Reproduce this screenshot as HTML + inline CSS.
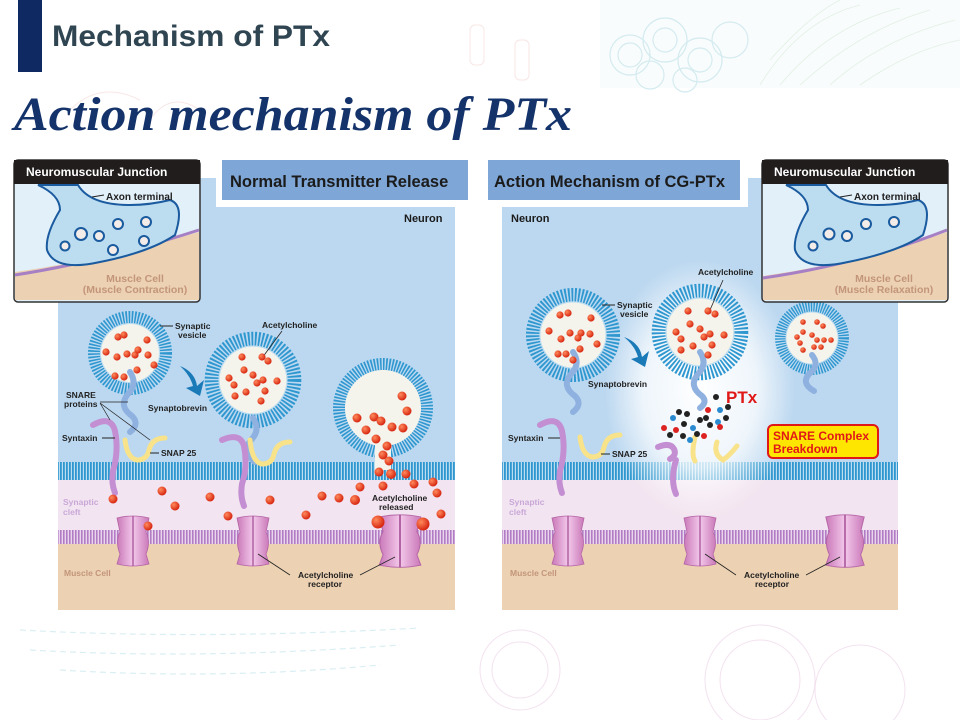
<!DOCTYPE html>
<html><head><meta charset="utf-8"><style>
html,body{margin:0;padding:0;background:#fff;}
svg{display:block;font-family:"Liberation Sans",sans-serif;}
</style></head><body>
<svg width="960" height="720" viewBox="0 0 960 720" xmlns="http://www.w3.org/2000/svg">
<defs>
<pattern id="mem" width="3" height="20" patternUnits="userSpaceOnUse"><rect width="3" height="20" fill="#bcdcf0"/><rect x="0" width="1.8" height="20" fill="#2e97cf"/></pattern>
<pattern id="mmem" width="3" height="20" patternUnits="userSpaceOnUse"><rect width="3" height="20" fill="#e9d6ee"/><rect x="0" width="1.6" height="20" fill="#b27cc4"/></pattern>
<radialGradient id="glow" cx="0.5" cy="0.5" r="0.5"><stop offset="0" stop-color="#fff" stop-opacity="1"/><stop offset="0.6" stop-color="#fff" stop-opacity="0.75"/><stop offset="1" stop-color="#fff" stop-opacity="0"/></radialGradient>
<radialGradient id="dot" cx="0.35" cy="0.35" r="0.7"><stop offset="0" stop-color="#ff8a5c"/><stop offset="1" stop-color="#d4200c"/></radialGradient>
<linearGradient id="rec" x1="0" x2="1"><stop offset="0" stop-color="#c978b8"/><stop offset="0.5" stop-color="#f3c8ea"/><stop offset="1" stop-color="#c978b8"/></linearGradient>
<g id="ves">
<circle r="36" fill="none" stroke="#2e97cf" stroke-width="12" stroke-dasharray="1.6 1.4"/>
<circle r="30" fill="#bcdcf0"/>
<circle r="29" fill="#f4f4ec"/>
</g>
<g id="recp">
<path d="M-16,-22 Q0,-26 16,-22 L13,-8 Q18,2 13,14 L16,24 Q0,28 -16,24 L-13,14 Q-18,2 -13,-8 Z" fill="url(#rec)" stroke="#b565a6" stroke-width="0.8"/>
<line x1="0" y1="-24" x2="0" y2="26" stroke="#a14a92" stroke-width="1.2"/>
</g>
</defs>

<!-- header decoration -->
<g opacity="0.25" fill="none">
<g stroke="#4bb0c8" stroke-width="1.2">
<circle cx="630" cy="55" r="20"/><circle cx="630" cy="55" r="12"/><circle cx="665" cy="40" r="22"/><circle cx="665" cy="40" r="12"/>
<circle cx="700" cy="60" r="22"/><circle cx="700" cy="60" r="12"/><circle cx="730" cy="40" r="18"/><circle cx="650" cy="75" r="14"/><circle cx="685" cy="80" r="12"/>
</g>
<g stroke="#8cc98c" stroke-width="0.8">
<path d="M760,85 Q800,20 860,5"/><path d="M780,85 Q830,25 900,8"/><path d="M800,85 Q860,30 930,10"/><path d="M830,85 Q880,40 955,20"/><path d="M860,85 Q910,50 960,40"/><path d="M770,60 Q810,15 840,0"/>
</g>
<g stroke="#e6a0a0" stroke-width="1">
<rect x="470" y="25" width="14" height="40" rx="5"/><rect x="515" y="40" width="14" height="40" rx="5"/><path d="M70,110 Q100,80 140,100"/><path d="M150,120 Q170,90 200,110"/>
</g>
</g>
<rect x="600" y="0" width="360" height="88" fill="#dff0f2" opacity="0.2"/>

<rect x="18" y="0" width="24" height="72" fill="#0f2a63"/>
<text x="52" y="46" font-size="30" font-weight="bold" fill="#2f4552" textLength="278" lengthAdjust="spacingAndGlyphs">Mechanism of PTx</text>
<text x="14" y="130" font-family="Liberation Serif,serif" font-weight="bold" font-style="italic" font-size="48" fill="#14336b" textLength="558" lengthAdjust="spacingAndGlyphs">Action mechanism of PTx</text>

<!-- bottom decoration -->
<g opacity="0.25" fill="none" stroke="#6cc0d0" stroke-width="1.2" stroke-dasharray="6 4">
<path d="M20,630 Q200,640 420,628"/><path d="M30,650 Q200,660 400,645"/><path d="M60,670 Q220,680 380,665"/>
</g>
<g opacity="0.25" fill="none" stroke="#d090c0" stroke-width="1">
<circle cx="520" cy="670" r="40"/><circle cx="520" cy="670" r="28"/><circle cx="760" cy="680" r="55"/><circle cx="760" cy="680" r="40"/><circle cx="860" cy="690" r="45"/>
</g>

<!-- ===== LEFT PANEL ===== -->
<g>
<rect x="58" y="178" width="397" height="432" fill="#bcd8f0"/>
<rect x="58" y="472" width="397" height="70" fill="#f2e4f0"/>
<rect x="58" y="538" width="397" height="72" fill="#ecd1b2"/>
<rect x="58" y="462" width="397" height="18" fill="url(#mem)"/>
<rect x="58" y="530" width="397" height="14" fill="url(#mmem)"/>
<rect x="216" y="155" width="258" height="52" fill="#fff"/>
<rect x="222" y="160" width="246" height="40" fill="#7ea6d6"/>
<text x="230" y="187" font-size="16.5" font-weight="bold" fill="#1b1b1b">Normal Transmitter Release</text>
<text x="404" y="222" font-size="11" font-weight="bold" fill="#1b1b1b">Neuron</text>

<use href="#ves" x="130" y="353"/>
<use href="#ves" x="253" y="380" transform="translate(253 380) scale(1.15) translate(-253 -380)"/>
<circle cx="383" cy="408" r="44" fill="none" stroke="#2e97cf" stroke-width="12" stroke-dasharray="1.6 1.4"/>
<circle cx="383" cy="408" r="38" fill="#f4f4ec"/>
<rect x="375" y="440" width="16" height="30" fill="#f4f4ec"/>
<path d="M180,366 Q195,372 197,386 L204,380 L200,396 L186,388 L193,386 Q190,375 180,366Z" fill="#1a7ab8"/>
<path d="M130,372 q8,12 -2,22 q-10,12 4,22 q8,8 -2,16" fill="none" stroke="#8fb1e0" stroke-width="6" stroke-linecap="round"/>
<path d="M93,425 q18,-10 22,6 q4,20 -2,40 q-2,12 2,22" fill="none" stroke="#c38fd2" stroke-width="6" stroke-linecap="round"/>
<path d="M125,440 q2,18 12,20 q10,0 12,-10 q3,-12 16,-12" fill="none" stroke="#f8e28a" stroke-width="5" stroke-linecap="round"/>
<path d="M253,418 q8,12 -2,22 q-10,12 4,22" fill="none" stroke="#8fb1e0" stroke-width="6" stroke-linecap="round"/>
<path d="M222,440 q18,-8 22,6 q4,20 -2,38 q-2,12 2,22" fill="none" stroke="#c38fd2" stroke-width="6" stroke-linecap="round"/>
<path d="M250,440 q2,22 12,24 q10,0 12,-10 q3,-12 16,-12" fill="none" stroke="#f8e28a" stroke-width="5" stroke-linecap="round"/>
<use href="#recp" x="133" y="540"/>
<use href="#recp" x="253" y="540"/>
<use href="#recp" x="400" y="540" transform="translate(400 540) scale(1.3 1.05) translate(-400 -540)"/>
<g font-size="8.5" font-weight="bold" fill="#222">
<text x="175" y="329">Synaptic</text><text x="178" y="338">vesicle</text>
<line x1="160" y1="326" x2="173" y2="326" stroke="#222"/>
<text x="262" y="328">Acetylcholine</text>
<line x1="282" y1="331" x2="262" y2="358" stroke="#222" stroke-width="0.8"/>
<text x="66" y="398">SNARE</text><text x="64" y="407">proteins</text>
<text x="148" y="411">Synaptobrevin</text>
<text x="62" y="441">Syntaxin</text>
<line x1="102" y1="438" x2="115" y2="438" stroke="#222"/>
<text x="161" y="456">SNAP 25</text>
<line x1="150" y1="453" x2="159" y2="453" stroke="#222"/>
<path d="M100,402 L128,402 M100,403 L150,440 M100,403 L110,420" stroke="#222" stroke-width="0.7" fill="none"/>
<text x="372" y="501">Acetylcholine</text><text x="379" y="510">released</text>
<text x="298" y="578">Acetylcholine</text><text x="308" y="587">receptor</text>
<path d="M258,554 L290,575 M395,557 L360,575" stroke="#222" stroke-width="0.8"/>
</g>
<text x="63" y="505" font-size="8.5" font-weight="bold" fill="#c9a8d8">Synaptic</text>
<text x="63" y="515" font-size="8.5" font-weight="bold" fill="#c9a8d8">cleft</text>
<text x="64" y="576" font-size="8.5" font-weight="bold" fill="#c3957a">Muscle Cell</text>
<g fill="url(#dot)">
<circle cx="118" cy="337" r="3.6"/><circle cx="124" cy="335" r="3.6"/><circle cx="147" cy="340" r="3.6"/><circle cx="106" cy="352" r="3.6"/><circle cx="117" cy="357" r="3.6"/><circle cx="127" cy="354" r="3.6"/><circle cx="135" cy="355" r="3.6"/><circle cx="138" cy="350" r="3.6"/><circle cx="148" cy="355" r="3.6"/><circle cx="154" cy="365" r="3.6"/><circle cx="115" cy="376" r="3.6"/><circle cx="124" cy="377" r="3.6"/><circle cx="137" cy="370" r="3.6"/>
<circle cx="242" cy="357" r="3.6"/><circle cx="262" cy="357" r="3.6"/><circle cx="268" cy="361" r="3.6"/><circle cx="244" cy="370" r="3.6"/><circle cx="253" cy="375" r="3.6"/><circle cx="229" cy="378" r="3.6"/><circle cx="234" cy="385" r="3.6"/><circle cx="257" cy="383" r="3.6"/><circle cx="263" cy="380" r="3.6"/><circle cx="277" cy="381" r="3.6"/><circle cx="246" cy="392" r="3.6"/><circle cx="265" cy="391" r="3.6"/><circle cx="235" cy="396" r="3.6"/><circle cx="261" cy="401" r="3.6"/>
<circle cx="402" cy="396" r="4.5"/><circle cx="407" cy="411" r="4.5"/><circle cx="357" cy="418" r="4.5"/><circle cx="374" cy="417" r="4.5"/><circle cx="381" cy="421" r="4.5"/><circle cx="366" cy="430" r="4.5"/><circle cx="392" cy="427" r="4.5"/><circle cx="403" cy="428" r="4.5"/><circle cx="376" cy="439" r="4.5"/><circle cx="387" cy="446" r="4.5"/><circle cx="383" cy="455" r="4.5"/><circle cx="389" cy="461" r="4.5"/><circle cx="379" cy="472" r="4.5"/><circle cx="391" cy="474" r="5"/><circle cx="406" cy="474" r="4.5"/><circle cx="383" cy="486" r="4.5"/><circle cx="414" cy="484" r="4.5"/><circle cx="360" cy="487" r="4.5"/><circle cx="433" cy="482" r="4.5"/><circle cx="437" cy="493" r="4.5"/><circle cx="322" cy="496" r="4.5"/><circle cx="339" cy="498" r="4.5"/><circle cx="355" cy="500" r="5"/><circle cx="441" cy="514" r="4.5"/><circle cx="378" cy="522" r="6.5"/><circle cx="423" cy="524" r="6.5"/>
<circle cx="113" cy="499" r="4.5"/><circle cx="162" cy="491" r="4.5"/><circle cx="175" cy="506" r="4.5"/><circle cx="210" cy="497" r="4.5"/><circle cx="228" cy="516" r="4.5"/><circle cx="270" cy="500" r="4.5"/><circle cx="306" cy="515" r="4.5"/><circle cx="148" cy="526" r="4.5"/>
</g>
</g>

<!-- left inset -->
<g>
<rect x="14" y="160" width="186" height="142" rx="4" fill="#e2f0fa" stroke="#333" stroke-width="1.5"/>
<path d="M15,272 Q100,260 199,232 L199,300 L15,300Z" fill="#ecd1b2"/>
<path d="M15,275 Q100,262 199,230" fill="none" stroke="#a67fc4" stroke-width="3"/>
<path d="M38,185 Q60,195 60,210 Q45,235 47,250 Q55,272 100,262 Q150,252 175,235 Q185,205 170,200 Q150,205 130,205 Q90,205 78,185Z" fill="#bcdcf0" stroke="#1a5a9e" stroke-width="2"/>
<rect x="14" y="160" width="186" height="24" fill="#221d1d"/>
<text x="26" y="176" font-size="12" font-weight="bold" fill="#fff">Neuromuscular Junction</text>
<text x="106" y="200" font-size="10" font-weight="bold" fill="#222">Axon terminal</text>
<line x1="92" y1="197" x2="104" y2="195" stroke="#222"/>
<g fill="#f4ece8" stroke="#1a5a9e" stroke-width="2"><circle cx="65" cy="246" r="4.5"/><circle cx="81" cy="234" r="6"/><circle cx="99" cy="236" r="5"/><circle cx="118" cy="224" r="5"/><circle cx="146" cy="222" r="5"/><circle cx="144" cy="241" r="5"/><circle cx="113" cy="250" r="5"/></g>
<text x="135" y="282" font-size="10.5" font-weight="bold" fill="#c3957a" text-anchor="middle">Muscle Cell</text>
<text x="135" y="293" font-size="10.5" font-weight="bold" fill="#c3957a" text-anchor="middle">(Muscle Contraction)</text>
</g>

<!-- ===== RIGHT PANEL ===== -->
<g>
<rect x="502" y="178" width="396" height="432" fill="#bcd8f0"/>
<rect x="502" y="472" width="396" height="70" fill="#f2e4f0"/>
<rect x="502" y="538" width="396" height="72" fill="#ecd1b2"/>
<rect x="502" y="462" width="396" height="18" fill="url(#mem)"/>
<rect x="502" y="530" width="396" height="14" fill="url(#mmem)"/>
<ellipse cx="700" cy="390" rx="95" ry="130" fill="url(#glow)"/>
<rect x="482" y="155" width="266" height="52" fill="#fff"/>
<rect x="488" y="160" width="252" height="40" fill="#7ea6d6"/>
<text x="494" y="187" font-size="16.5" font-weight="bold" fill="#1b1b1b">Action Mechanism of CG-PTx</text>
<text x="511" y="222" font-size="11" font-weight="bold" fill="#1b1b1b">Neuron</text>
<use href="#ves" x="573" y="335" transform="translate(573 335) scale(1.12) translate(-573 -335)"/>
<use href="#ves" x="700" y="332" transform="translate(700 332) scale(1.15) translate(-700 -332)"/>
<use href="#ves" x="812" y="338" transform="translate(812 338) scale(0.88) translate(-812 -338)"/>
<path d="M624,337 Q640,343 642,357 L649,351 L645,367 L631,359 L638,357 Q635,346 624,337Z" fill="#1a7ab8"/>
<path d="M573,352 q8,12 -2,22 q-10,12 4,22 q8,8 -2,16" fill="none" stroke="#8fb1e0" stroke-width="6" stroke-linecap="round"/>
<path d="M700,352 q8,12 -2,22 q-10,12 4,22 q6,6 -2,12" fill="none" stroke="#8fb1e0" stroke-width="6" stroke-linecap="round"/>
<path d="M812,355 q8,10 -2,18 q-10,10 4,18" fill="none" stroke="#8fb1e0" stroke-width="6" stroke-linecap="round"/>
<path d="M540,425 q18,-10 22,6 q4,20 -2,40 q-2,12 2,22" fill="none" stroke="#c38fd2" stroke-width="6" stroke-linecap="round"/>
<path d="M580,437 q2,18 12,20 q10,0 12,-10 q3,-12 16,-12" fill="none" stroke="#f8e28a" stroke-width="5" stroke-linecap="round"/>
<path d="M658,447 q12,-5 16,2 q3,6 -4,10 M676,460 q-6,20 0,34" fill="none" stroke="#c38fd2" stroke-width="6" stroke-linecap="round"/>
<path d="M695,437 q-4,18 0,24 M717,442 q-4,12 6,18 q6,-4 14,-14" fill="none" stroke="#f8e28a" stroke-width="5" stroke-linecap="round"/>
<g>
<circle cx="716" cy="397" r="3" fill="#222"/><circle cx="708" cy="410" r="3" fill="#d22"/><circle cx="720" cy="410" r="3" fill="#2a8ad0"/><circle cx="728" cy="407" r="3" fill="#222"/><circle cx="726" cy="418" r="3" fill="#222"/><circle cx="718" cy="422" r="3" fill="#2a8ad0"/><circle cx="710" cy="425" r="3" fill="#222"/><circle cx="700" cy="420" r="3" fill="#222"/><circle cx="693" cy="428" r="3" fill="#2a8ad0"/><circle cx="684" cy="424" r="3" fill="#222"/><circle cx="676" cy="430" r="3" fill="#d22"/><circle cx="687" cy="414" r="3" fill="#222"/><circle cx="679" cy="412" r="3" fill="#222"/><circle cx="673" cy="418" r="3" fill="#2a8ad0"/><circle cx="683" cy="436" r="3" fill="#222"/><circle cx="697" cy="434" r="3" fill="#222"/><circle cx="704" cy="436" r="3" fill="#d22"/><circle cx="670" cy="435" r="3" fill="#222"/><circle cx="664" cy="428" r="3" fill="#d22"/><circle cx="690" cy="440" r="3" fill="#2a8ad0"/><circle cx="720" cy="427" r="3" fill="#d22"/><circle cx="706" cy="418" r="3" fill="#222"/>
</g>
<text x="726" y="403" font-size="17" font-weight="bold" fill="#e01818">PTx</text>
<rect x="768" y="425" width="110" height="33" rx="5" fill="#ffe600" stroke="#e01818" stroke-width="2"/>
<text x="773" y="440" font-size="12" font-weight="bold" fill="#e01818">SNARE Complex</text>
<text x="773" y="453" font-size="12" font-weight="bold" fill="#e01818">Breakdown</text>
<use href="#recp" x="568" y="540"/>
<use href="#recp" x="700" y="540"/>
<use href="#recp" x="845" y="540" transform="translate(845 540) scale(1.2 1.05) translate(-845 -540)"/>
<g font-size="8.5" font-weight="bold" fill="#222">
<text x="617" y="308">Synaptic</text><text x="620" y="317">vesicle</text>
<line x1="602" y1="305" x2="615" y2="305" stroke="#222"/>
<text x="698" y="275">Acetylcholine</text>
<line x1="723" y1="280" x2="710" y2="310" stroke="#222" stroke-width="0.8"/>
<text x="588" y="387">Synaptobrevin</text>
<text x="508" y="441">Syntaxin</text>
<line x1="548" y1="438" x2="560" y2="438" stroke="#222"/>
<text x="612" y="457">SNAP 25</text>
<line x1="601" y1="454" x2="610" y2="454" stroke="#222"/>
<text x="744" y="578">Acetylcholine</text><text x="755" y="587">receptor</text>
<path d="M705,554 L736,575 M840,557 L806,575" stroke="#222" stroke-width="0.8"/>
</g>
<text x="509" y="505" font-size="8.5" font-weight="bold" fill="#c9a8d8">Synaptic</text>
<text x="509" y="515" font-size="8.5" font-weight="bold" fill="#c9a8d8">cleft</text>
<text x="510" y="576" font-size="8.5" font-weight="bold" fill="#c3957a">Muscle Cell</text>
<g fill="url(#dot)">
<circle cx="560" cy="315" r="3.6"/><circle cx="568" cy="313" r="3.6"/><circle cx="591" cy="318" r="3.6"/><circle cx="549" cy="331" r="3.6"/><circle cx="561" cy="339" r="3.6"/><circle cx="570" cy="333" r="3.6"/><circle cx="581" cy="333" r="3.6"/><circle cx="578" cy="338" r="3.6"/><circle cx="590" cy="334" r="3.6"/><circle cx="597" cy="344" r="3.6"/><circle cx="558" cy="354" r="3.6"/><circle cx="566" cy="354" r="3.6"/><circle cx="580" cy="349" r="3.6"/><circle cx="573" cy="360" r="3.6"/>
<circle cx="688" cy="311" r="3.6"/><circle cx="708" cy="311" r="3.6"/><circle cx="715" cy="314" r="3.6"/><circle cx="690" cy="324" r="3.6"/><circle cx="700" cy="329" r="3.6"/><circle cx="676" cy="332" r="3.6"/><circle cx="681" cy="339" r="3.6"/><circle cx="704" cy="337" r="3.6"/><circle cx="710" cy="334" r="3.6"/><circle cx="724" cy="335" r="3.6"/><circle cx="693" cy="346" r="3.6"/><circle cx="712" cy="345" r="3.6"/><circle cx="681" cy="350" r="3.6"/><circle cx="708" cy="355" r="3.6"/>
<circle cx="803" cy="322" r="2.8"/><circle cx="817" cy="322" r="2.8"/><circle cx="823" cy="326" r="2.8"/><circle cx="803" cy="332" r="2.8"/><circle cx="812" cy="335" r="2.8"/><circle cx="797" cy="337" r="2.8"/><circle cx="817" cy="340" r="2.8"/><circle cx="824" cy="340" r="2.8"/><circle cx="831" cy="340" r="2.8"/><circle cx="800" cy="343" r="2.8"/><circle cx="814" cy="347" r="2.8"/><circle cx="803" cy="350" r="2.8"/><circle cx="821" cy="347" r="2.8"/>
</g>
</g>

<!-- right inset -->
<g>
<rect x="762" y="160" width="186" height="142" rx="4" fill="#e2f0fa" stroke="#333" stroke-width="1.5"/>
<path d="M763,276 Q860,262 947,232 L947,300 L763,300Z" fill="#ecd1b2"/>
<path d="M763,278 Q860,264 947,230" fill="none" stroke="#a67fc4" stroke-width="3"/>
<path d="M786,185 Q808,195 808,210 Q793,235 795,250 Q803,272 848,262 Q898,252 923,235 Q933,205 918,200 Q898,205 878,205 Q838,205 826,185Z" fill="#bcdcf0" stroke="#1a5a9e" stroke-width="2"/>
<rect x="762" y="160" width="186" height="24" fill="#221d1d"/>
<text x="774" y="176" font-size="12" font-weight="bold" fill="#fff">Neuromuscular Junction</text>
<text x="854" y="200" font-size="10" font-weight="bold" fill="#222">Axon terminal</text>
<line x1="840" y1="197" x2="852" y2="195" stroke="#222"/>
<g fill="#f4ece8" stroke="#1a5a9e" stroke-width="2"><circle cx="813" cy="246" r="4.5"/><circle cx="829" cy="234" r="5.5"/><circle cx="847" cy="236" r="5"/><circle cx="866" cy="224" r="5"/><circle cx="894" cy="222" r="5"/></g>
<text x="884" y="282" font-size="10.5" font-weight="bold" fill="#c3957a" text-anchor="middle">Muscle Cell</text>
<text x="884" y="293" font-size="10.5" font-weight="bold" fill="#c3957a" text-anchor="middle">(Muscle Relaxation)</text>
</g>
</svg>
</body></html>
